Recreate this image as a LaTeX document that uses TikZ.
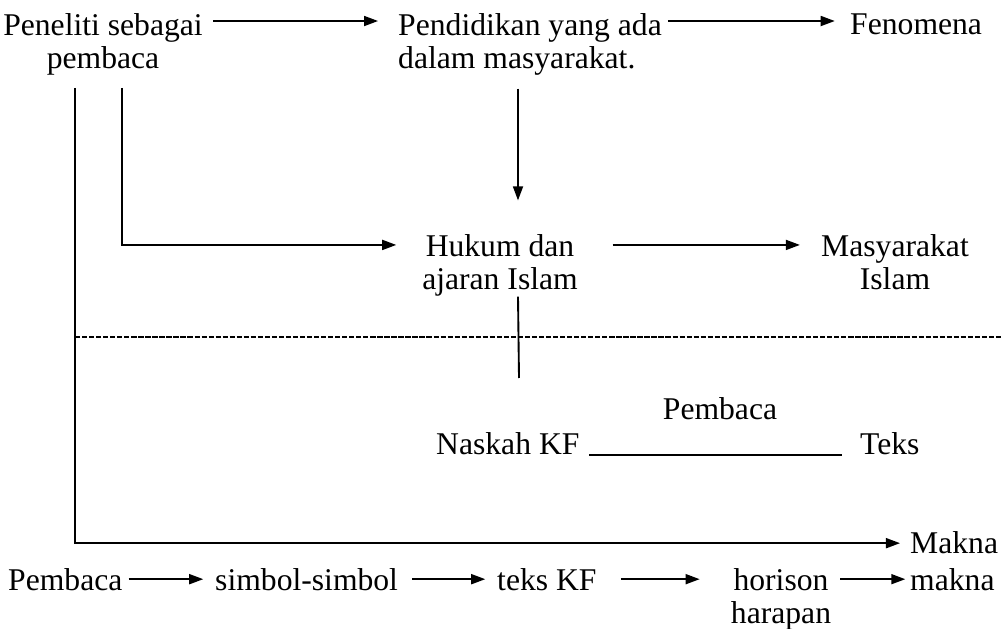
\documentclass[tikz,border=0pt]{standalone}
\usepackage{fontspec}
\setmainfont{Liberation Serif}
\usetikzlibrary{arrows.meta}
\tikzset{
  lbl/.style={inner xsep=0pt, inner ysep=0pt, font=\fontsize{27}{28.2}\selectfont},
  link/.style={line width=1.6pt, -{Triangle[length=12pt,width=8.5pt]}},
  plain/.style={line width=1.6pt},
  sepline/.style={line width=1.8pt, dash pattern=on 4.5pt off 1.5pt}
}
\begin{document}
\begin{tikzpicture}[x=0.03cm,y=-0.03cm]
	\useasboundingbox (0,0) rectangle (1002,629);
	% upper part
	\node[lbl, align=center, anchor=north] (peneliti) at (103,13.4) {Peneliti sebagai\\pembaca};
	\node[lbl, align=left, anchor=north west] (pendidikan) at (398,13.4) {Pendidikan yang ada\\dalam masyarakat.};
	\node[lbl, anchor=north west] (fenomena) at (850,13.4) {Fenomena};
	\node[lbl, align=center, anchor=north] (hukum) at (500,234.4) {Hukum dan\\ajaran Islam};
	\node[lbl, align=center, anchor=north] (masyarakat) at (895,234.4) {Masyarakat\\Islam};
	\node[lbl, anchor=base] (pembaca) at (720,420) {Pembaca};
	\node[lbl, anchor=base west] (naskah) at (436,455) {Naskah KF};
	\node[lbl, anchor=base west] (teks) at (860,455) {Teks};
	\node[lbl, anchor=base west] (makna) at (910,554) {Makna};
	\coordinate (pa) at (75,88);
	\coordinate (pb) at (122,88);
	\coordinate (colx) at (518,0);
	\coordinate (colend) at (519,378);
	\coordinate (dashl) at (75,337);
	\coordinate (dashr) at (1002,337);
	\draw[link, shorten <=9pt, shorten >=17pt] ([yshift=-6.5pt]peneliti.north east) -- ([yshift=-6.5pt]pendidikan.north west);
	\draw[link, shorten <=5pt, shorten >=13pt] ([yshift=-6.5pt]pendidikan.north east) -- ([yshift=-6.5pt]fenomena.north west);
	\draw[link, shorten <=11pt, shorten >=29pt] (pendidikan.south -| colx) -- (hukum.north -| colx);
	\draw[link, shorten >=22pt] (pb) |- ([yshift=-9pt]hukum.north west);
	\draw[link, shorten <=29.5pt, shorten >=18pt] ([yshift=-9pt]hukum.north east) -- ([yshift=-9pt]masyarakat.north west);
	\draw[plain] (hukum.south -| colx) -- (colend);
	\draw[sepline] (dashl) -- (dashr);
	\draw[plain, shorten <=8pt, shorten >=15pt] (naskah.base east) -- (teks.base west);
	\draw[link, shorten >=8.5pt] (pa) |- (makna);
	% lower row
	\node[lbl, anchor=base west] (pembaca2) at (8,590) {Pembaca};
	\node[lbl, anchor=base west] (simbol) at (215,590) {simbol-simbol};
	\node[lbl, anchor=base west] (teksKF) at (497,590) {teks KF};
	\node[lbl, align=center, anchor=north] (horison) at (781,568.4) {horison\\harapan};
	\node[lbl, anchor=base west] (makna2) at (910,590) {makna};
	\draw[link, shorten <=5pt, shorten >=10pt] (pembaca2) -- (simbol);
	\draw[link, shorten <=12pt, shorten >=10pt] (simbol) -- (teksKF);
	\draw[link, shorten <=20.5pt, shorten >=26.5pt] (teksKF) -- (teksKF -| horison.west);
	\draw[link, shorten <=7.5pt, shorten >=4pt] (horison.east |- makna2) -- (makna2);
\end{tikzpicture}
\end{document}
